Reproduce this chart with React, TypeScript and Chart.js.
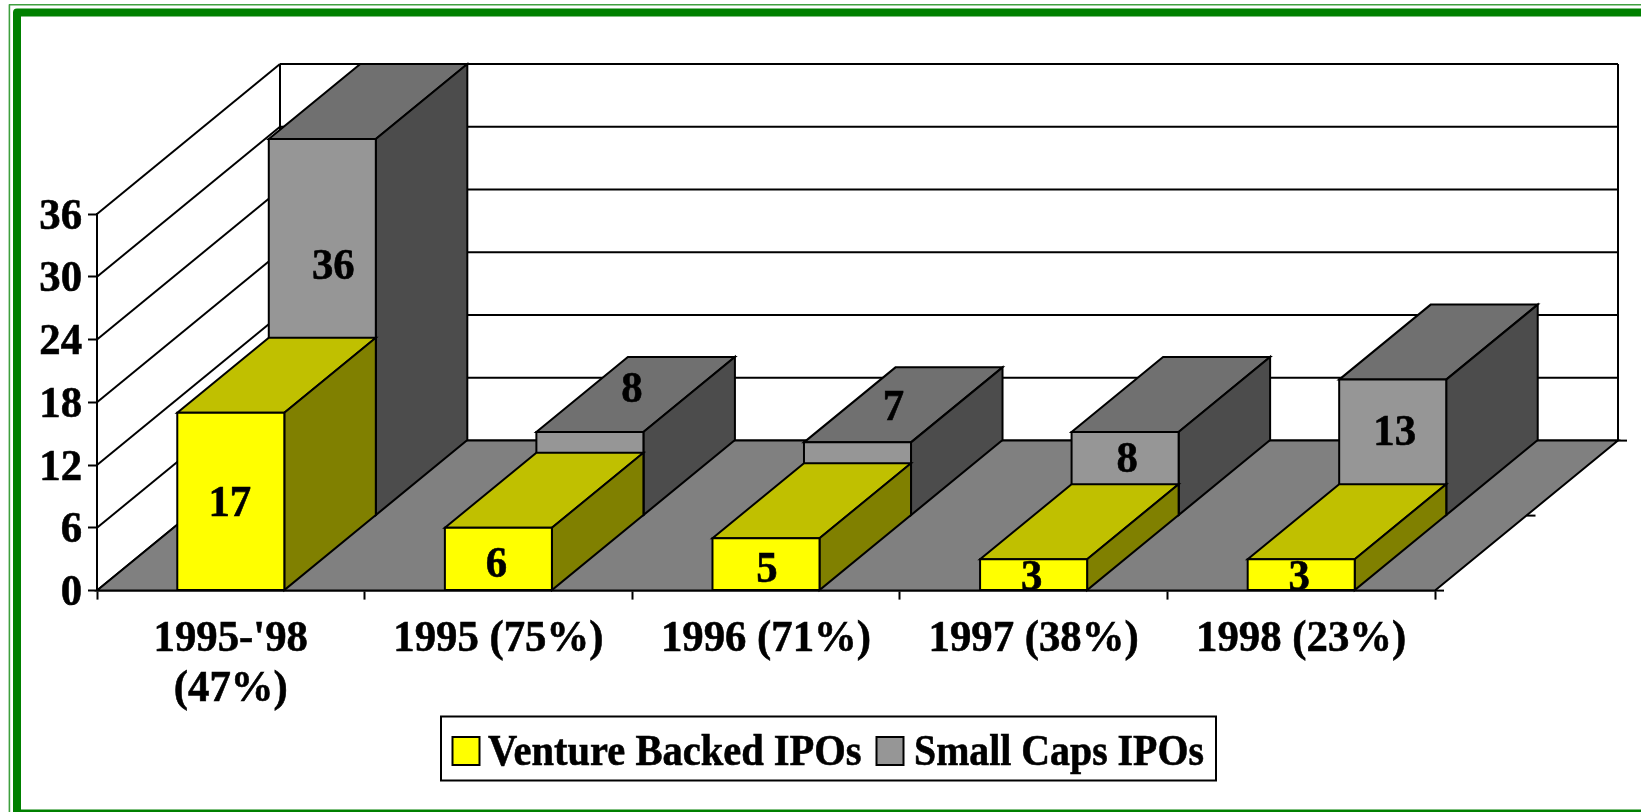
import React, { useEffect, useRef } from "react";
import { Chart, registerables } from "chart.js";

Chart.register(...registerables);

const categories = [["1995-'98", "(47%)"], "1995 (75%)", "1996 (71%)", "1997 (38%)", "1998 (23%)"];
const ventureBacked = [17, 6, 5, 3, 3];
const smallCaps = [36, 8, 7, 8, 13];
const seriesNames = ["Venture Backed IPOs", "Small Caps IPOs"];

// label nudges from the centre of a bar's front face (manually placed in the original)
const ventureNudgeX = [-1, -2, 1, -2, -2];
const ventureNudgeY = [0, 3, 3, 1, 1];
const smallNudgeX = [11, 42, 36, 2, 2];
const smallNudgeY = [-63, -86, -73, -16, -17];

const W = 1641;
const H = 812;
const ROW = { dx: 91.5, dy: -75 };
const FONT = '"Liberation Serif"';
const LW = 2;

const COLORS = {
  venture: { front: "#FFFF00", top: "#C0C000", side: "#808000" },
  small: { front: "#969696", top: "#707070", side: "#4C4C4C" },
  floor: "#808080",
  frame: "#008000",
};

let squeeze = 0.95;

function poly(ctx: any, pts: number[][], fill?: string) {
  ctx.beginPath();
  pts.forEach((p, i) => (i ? ctx.lineTo(p[0], p[1]) : ctx.moveTo(p[0], p[1])));
  ctx.closePath();
  if (fill) {
    ctx.fillStyle = fill;
    ctx.fill();
  }
  ctx.stroke();
}

function line(ctx: any, x0: number, y0: number, x1: number, y1: number) {
  ctx.beginPath();
  ctx.moveTo(x0, y0);
  ctx.lineTo(x1, y1);
  ctx.stroke();
}

function box(ctx: any, el: any, row: number, c: any) {
  const l = el.x - el.width / 2 + row * ROW.dx;
  const r = el.x + el.width / 2 + row * ROW.dx;
  const t = el.y + row * ROW.dy;
  const b = el.base + row * ROW.dy;
  const { dx, dy } = ROW;
  poly(ctx, [[l, t], [r, t], [r + dx, t + dy], [l + dx, t + dy]], c.top);
  poly(ctx, [[r, t], [r + dx, t + dy], [r + dx, b + dy], [r, b]], c.side);
  poly(ctx, [[l, t], [r, t], [r, b], [l, b]], c.front);
}

const frame3d = {
  id: "frame3d",
  beforeDraw(chart: any) {
    const { ctx } = chart;
    ctx.save();
    ctx.strokeStyle = COLORS.frame;
    ctx.lineJoin = "round";
    ctx.globalAlpha = 0.75;
    ctx.lineWidth = 1.6;
    ctx.strokeRect(9.4, 4.8, W + 40, H + 40);
    ctx.globalAlpha = 1;
    ctx.lineWidth = 8;
    ctx.strokeRect(17, 12.6, W + 40, 801);
    ctx.restore();
  },
  beforeDatasetsDraw(chart: any) {
    const { ctx, chartArea, scales } = chart;
    const { left, right, bottom } = chartArea;
    const y = scales.y;
    const depthX = ROW.dx * 2;
    const depthY = ROW.dy * 2;
    const topY = y.getPixelForValue(36);

    ctx.save();
    ctx.strokeStyle = "#000";
    ctx.lineWidth = LW;
    ctx.lineJoin = "miter";

    // walls and gridlines
    y.ticks.forEach((t: any) => {
      const py = y.getPixelForValue(t.value);
      line(ctx, left, py, left + depthX, py + depthY);
      line(ctx, left + depthX, py + depthY, right + depthX, py + depthY);
    });
    line(ctx, left, bottom, left, topY);
    line(ctx, left + depthX, bottom + depthY, left + depthX, topY + depthY);
    line(ctx, right + depthX, bottom + depthY, right + depthX, topY + depthY);

    // floor
    poly(
      ctx,
      [
        [left, bottom],
        [right, bottom],
        [right + depthX, bottom + depthY],
        [left + depthX, bottom + depthY],
      ],
      COLORS.floor
    );

    // depth-axis ticks
    [0, 1, 2].forEach((i) => {
      const x0 = right + i * ROW.dx;
      const y0 = bottom + i * ROW.dy;
      line(ctx, x0, y0, x0 + 9, y0);
    });

    // bars, back row first
    const front = chart.getDatasetMeta(0).data;
    const back = chart.getDatasetMeta(1).data;
    back.forEach((el: any) => box(ctx, el, 1, COLORS.small));
    front.forEach((el: any) => box(ctx, el, 0, COLORS.venture));

    // data labels
    squeeze = 0.95;
    ctx.fillStyle = "#000";
    ctx.font = `bold 45px ${FONT}`;
    ctx.textAlign = "center";
    ctx.textBaseline = "middle";
    front.forEach((el: any, i: number) => {
      ctx.fillText(String(ventureBacked[i]), el.x + ventureNudgeX[i], (el.y + el.base) / 2 + ventureNudgeY[i]);
    });
    back.forEach((el: any, i: number) => {
      ctx.fillText(
        String(smallCaps[i]),
        el.x + ROW.dx + smallNudgeX[i],
        (el.y + el.base) / 2 + ROW.dy + smallNudgeY[i]
      );
    });
    ctx.restore();
    return false;
  },
  afterDraw(chart: any) {
    const { ctx } = chart;
    ctx.save();
    ctx.strokeStyle = "#000";
    ctx.lineWidth = LW;
    ctx.fillStyle = "#fff";
    ctx.fillRect(441, 716.5, 775, 64);
    ctx.strokeRect(441, 716.5, 775, 64);
    const swatchX = [452.5, 876.5];
    const textX = [488, 914];
    const textSqueeze = [0.9, 0.885];
    chart.data.datasets.forEach((ds: any, i: number) => {
      ctx.fillStyle = ds.backgroundColor;
      ctx.fillRect(swatchX[i], 737, 27, 28);
      ctx.strokeRect(swatchX[i], 737, 27, 28);
      ctx.fillStyle = "#000";
      ctx.font = `bold 45px ${FONT}`;
      ctx.textAlign = "left";
      ctx.textBaseline = "alphabetic";
      squeeze = textSqueeze[i];
      ctx.fillText(ds.label, textX[i], 765);
    });
    squeeze = 0.95;
    ctx.restore();
  },
};

export default function App() {
  const ref = useRef<HTMLCanvasElement | null>(null);

  useEffect(() => {
    const canvas = ref.current as any;
    const ctx = canvas.getContext("2d");
    const nativeFillText = ctx.fillText;
    ctx.fillText = function (t: string, x: number, y: number) {
      this.save();
      this.translate(x, y + (this.textBaseline === "middle" ? 3 : 0));
      this.scale(squeeze, 1);
      nativeFillText.call(this, t, 0, 0);
      // the reference's type is a little heavier than the installed bold
      this.strokeStyle = this.fillStyle;
      this.lineWidth = 0.6;
      this.strokeText(t, 0, 0);
      this.restore();
    };

    const axisFont = { family: FONT, size: 45, weight: "bold" as const, lineHeight: 50 / 45 };
    const chart = new Chart(ctx, {
      type: "bar",
      data: {
        labels: categories as any,
        datasets: [
          { label: seriesNames[0], data: ventureBacked, backgroundColor: COLORS.venture.front },
          { label: seriesNames[1], data: smallCaps, backgroundColor: COLORS.small.front },
        ],
      },
      options: {
        responsive: false,
        animation: false,
        devicePixelRatio: 1,
        layout: {
          autoPadding: false,
          padding: { left: 7, right: W - 1435, top: 214, bottom: H - 590.6 - 200 },
        },
        plugins: { legend: { display: false }, tooltip: { enabled: false } },
        datasets: { bar: { grouped: false, barPercentage: 0.4, categoryPercentage: 1 } },
        scales: {
          x: {
            type: "category",
            afterFit: (s: any) => {
              s.height = 200;
            },
            border: { display: true, color: "#000", width: LW + 0.5 },
            grid: { drawOnChartArea: false, drawTicks: true, tickLength: 9, tickColor: "#000", tickWidth: LW },
            ticks: { color: "#000", font: axisFont, padding: 12, autoSkip: false, maxRotation: 0, minRotation: 0 },
          },
          y: {
            type: "linear",
            min: 0,
            max: 36,
            afterFit: (s: any) => {
              s.width = 90;
            },
            border: { display: true, color: "#000", width: LW },
            grid: { drawOnChartArea: false, drawTicks: true, tickLength: 9, tickColor: "#000", tickWidth: LW },
            ticks: { color: "#000", font: axisFont, padding: 6, stepSize: 6, autoSkip: false },
          },
        },
      } as any,
      plugins: [frame3d],
    } as any);

    return () => {
      chart.destroy();
      delete ctx.fillText;
    };
  }, []);

  return (
    <canvas
      ref={ref}
      width={W}
      height={H}
      style={{ position: "fixed", left: 0, top: 0, width: W, height: H, display: "block" }}
    />
  );
}
